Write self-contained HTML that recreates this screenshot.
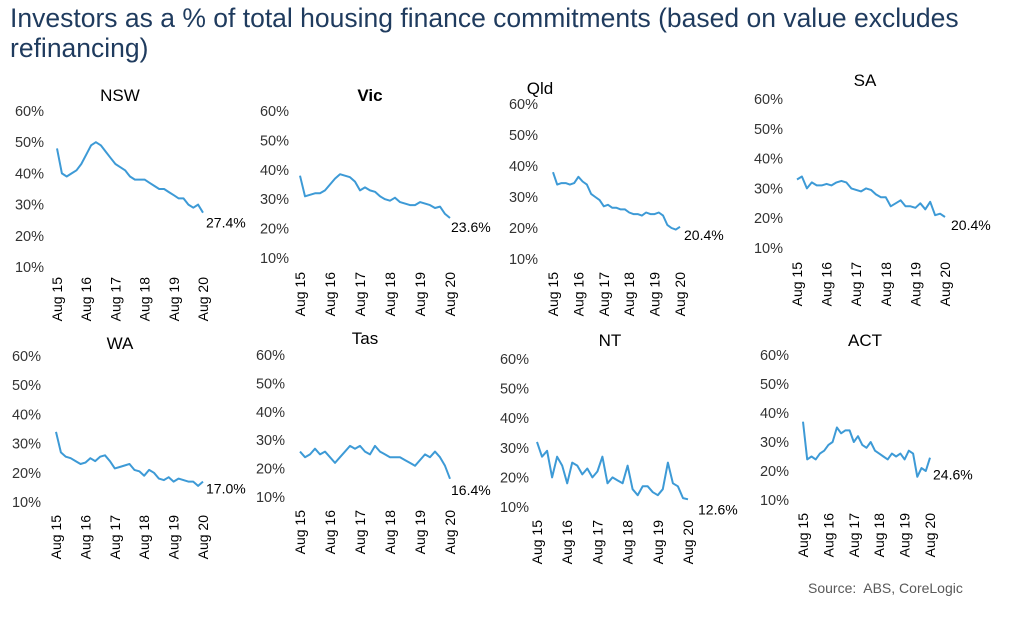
<!DOCTYPE html>
<html><head><meta charset="utf-8">
<style>
body{margin:0;background:#fff;width:1021px;height:621px;overflow:hidden;font-family:"Liberation Sans",sans-serif}
#title{position:absolute;left:10px;top:3px;width:1011px;font-size:26.5px;line-height:30px;color:#1f3b5e;white-space:nowrap}
#src{position:absolute;left:808px;top:580px;font-size:14px;color:#595959}
svg{position:absolute;left:0;top:0}
</style></head><body>
<div id="title">Investors as a % of total housing finance commitments (based on value excludes<br>refinancing)</div>
<div id="src">Source:&nbsp; ABS, CoreLogic</div>
<svg id="c" width="1021" height="621"></svg>
<script>
const states=["NSW","Vic","Qld","SA","WA","Tas","NT","ACT"];
const yTicks=[60,50,40,30,20,10];
const xTickLabels=["Aug 15","Aug 16","Aug 17","Aug 18","Aug 19","Aug 20"];
const nsw=[48,40,39,40,41,43,46,49,50,49,47,45,43,42,41,39,38,38,38,37,36,35,35,34,33,32,32,30,29,30,27.4];
const vic=[38,31,31.5,32,32,33,35,37,38.5,38,37.5,36,33,34,33,32.5,31,30,29.5,30.5,29,28.5,28,28,29,28.5,28,27,27.5,25,23.6];
const qld=[38,34,34.5,34.5,34,34.5,36.5,35,34,31,30,29,27,27.5,26.5,26.5,26,26,25,24.5,24.5,24,25,24.5,24.5,25,24,21,20,19.5,20.4];
const sa=[33,34,30,32,31,31,31.5,31,32,32.5,32,30,29.5,29,30,29.5,28,27,27,24,25,26,24,24,23.5,25,23,25.5,21,21.5,20.4];
const wa=[34,27,25.5,25,24,23,23.5,25,24,25.5,26,24,21.5,22,22.5,23,21,20.5,19,21,20,18,17.5,18.5,17,18,17.5,17,17,15.5,17.0];
const tas=[26,24,25,27,25,26,24,22,24,26,28,27,28,26,25,28,26,25,24,24,24,23,22,21,23,25,24,26,24,21,16.4];
const nt=[32,27,29,20,27,24,18,25,24,21,23,20,22,27,18,20,19,18,24,16,14,17,17,15,14,16,25,18,17,13,12.6];
const act=[37,24,25,24,26,27,29,30,35,33,34,34,30,32,29,28,30,27,26,25,24,26,25,26,24,27,26,18,21,20,24.6];
const endLabels=["27.4%","23.6%","20.4%","20.4%","17.0%","16.4%","12.6%","24.6%"];
const seriesList=[nsw,vic,qld,sa,wa,tas,nt,act];
// layout: [yLabelRight, y60, y10, xStart, xEnd, titleX, titleY, labelDx, labelDy, xLabelTop]
const layout=[
 [44,111,267,57,203,120,101,3,15,277],
 [289,111,258,300,450,370,101,1,14,272],
 [538,104,259,553,680,540,94,4,13,272],
 [783,99,248,797,945,865,86,6,13,262],
 [41,356,502,56,203,120,349,3,12,515],
 [285,355,497,300,450,365,344,1,16,510],
 [529,359,507,537,688,610,346,10,15,520],
 [789,355,500,803,930,865,346,3,22,513]];
const svg=document.getElementById('c');const NS='http://www.w3.org/2000/svg';
function mk(t,a,txt){const e=document.createElementNS(NS,t);for(const k in a)e.setAttribute(k,a[k]);if(txt!=null)e.textContent=txt;svg.appendChild(e);return e;}
states.forEach((s,i)=>{
 const [yr,y60,y10,x0,x1,tx,ty,ldx,ldy,xt]=layout[i];
 const data=seriesList[i];
 const yS=v=>y60+(60-v)*(y10-y60)/50;
 const xS=k=>x0+k*(x1-x0)/(data.length-1);
 const t=mk('text',{x:tx,y:ty,'text-anchor':'middle','font-size':17,fill:'#000','font-weight':s==='Vic'?'bold':'normal'},s);
 
 
 yTicks.forEach(v=>{const e=mk('text',{x:yr,y:yS(v)+5,'text-anchor':'end','font-size':14.5,fill:'#333'},v+'%');
  
  });
 xTickLabels.forEach((l,k)=>{const x=x0+k*(x1-x0)/5+5, yy=xt;
  const e=mk('text',{x:x,y:yy,'text-anchor':'end','font-size':14,fill:'#000',transform:`rotate(-90 ${x} ${yy})`},l);
  
  });
 const d=data.map((v,k)=>(k?'L':'M')+xS(k).toFixed(1)+' '+yS(v).toFixed(1)).join(' ');
 const p=mk('path',{d:d,fill:'none',stroke:'#3d9ad6','stroke-width':2,'stroke-linejoin':'round'});
 
 
 const n=data.length-1;
 const lb=mk('text',{x:xS(n)+ldx,y:yS(data[n])+ldy,'font-size':14,fill:'#000'},endLabels[i]);
 
 
});
</script>
</body></html>
